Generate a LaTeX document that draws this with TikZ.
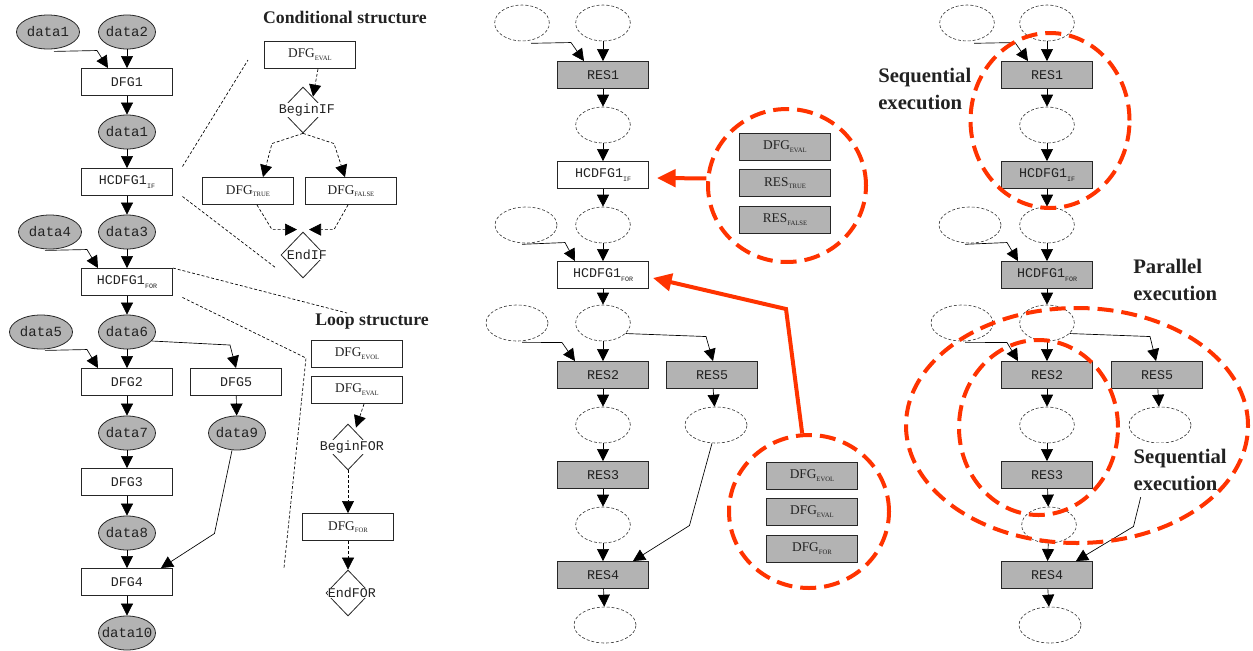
\documentclass[tikz,border=0pt]{standalone}
\usepackage{fontspec}
\setmainfont{Liberation Serif}
\setmonofont{Liberation Mono}
\usetikzlibrary{shapes.geometric,arrows.meta,calc}
\definecolor{redc}{HTML}{FF3300}
\definecolor{grayf}{HTML}{B3B3B3}
\definecolor{txt}{HTML}{222222}
\newcommand{\sbs}[1]{\raisebox{-0.45ex}{\fontsize{5}{5}\selectfont #1}}
\tikzset{
  box/.style={draw=black!85, line width=0.7pt, minimum width=68.25pt, minimum height=20.25pt, inner sep=0pt, font=\fontsize{10}{12}\selectfont\ttfamily, text=txt},
  gbox/.style={box, fill=grayf},
  sbox/.style={box, font=\fontsize{10}{12}\selectfont\rmfamily},
  gsbox/.style={sbox, fill=grayf},
  dell/.style={ellipse, draw=black!85, fill=grayf, line width=0.6pt, minimum width=42.75pt, minimum height=25.5pt, inner sep=0pt,
     label={[font=\fontsize{10.5}{12}\selectfont\ttfamily, text=txt]center:#1}},
  wide/.style={minimum width=47.25pt},
  oell/.style={ellipse, draw=black!80, dash pattern=on 2.2pt off 1.5pt, line width=0.45pt, minimum width=41pt, minimum height=27pt, inner sep=0pt},
  oellw/.style={oell, minimum width=46.5pt},
  dia/.style={diamond, draw=black!85, line width=0.6pt, minimum width=33pt, minimum height=34.5pt, inner sep=0pt,
     label={[font=\fontsize{10}{12}\selectfont\ttfamily, text=txt, fill=white, inner sep=0.3pt, xshift=3pt]center:#1}},
  arr/.style={line width=0.5pt, -{Triangle[length=9pt,width=9pt]}},
  darr/.style={arr, dash pattern=on 2.2pt off 1.5pt},
  zoomline/.style={line width=0.5pt, dash pattern=on 2.2pt off 1.5pt},
  redarr/.style={draw=redc, line width=3pt, -{Triangle[length=14pt,width=13pt]}},
  redell/.style={ellipse, draw=redc, line width=3pt, dash pattern=on 12pt off 6pt, inner sep=0pt},
  title/.style={font=\fontsize{13.3}{16}\selectfont\bfseries, text=txt},
  lab/.style={font=\fontsize{15.5}{20.25}\selectfont\bfseries, text=txt, align=left, inner sep=0pt},
}
\begin{document}
\begin{tikzpicture}[x=0.75pt,y=-0.75pt]
\useasboundingbox (0,0) rectangle (1253,650);

% ---------------- left panel ----------------
\node[dell=data1, wide] (a1) at (48,32) {};
\node[dell=data2] (a2) at (127,32) {};
\node[box] (dfg1) at (127,82) {DFG1};
\node[dell=data1] (a1b) at (127,132) {};
\node[box] (hif) at (127,182) {HCDFG1\sbs{IF}};
\node[dell=data4, wide] (a4) at (50,232) {};
\node[dell=data3] (a3) at (127,232) {};
\node[box] (hfor) at (127,282) {HCDFG1\sbs{FOR}};
\node[dell=data5, wide] (a5) at (41,332) {};
\node[dell=data6] (a6) at (127,332) {};
\node[box] (dfg2) at (127,382) {DFG2};
\node[box] (dfg5) at (236,382) {DFG5};
\node[dell=data7] (a7) at (127,433) {};
\node[dell=data9] (a9) at (237,433) {};
\node[box] (dfg3) at (127,482) {DFG3};
\node[dell=data8] (a8) at (127,533) {};
\node[box] (dfg4) at (127,582) {DFG4};
\node[dell=data10] (a10) at (127,633) {};

\foreach \p/\q in {a2/dfg1, dfg1/a1b, a1b/hif, hif/a3, a3/hfor, hfor/a6, a6/dfg2, dfg2/a7, a7/dfg3, dfg3/a8, a8/dfg4, dfg4/a10, dfg5/a9}
  \draw[arr] (\p) -- (\q);
\draw[arr] ($(a1.south)+(6,2)$) -- ($(dfg1.north)+(-30,-17.5)$) -- ($(dfg1.north)+(-19,0)$);
\draw[arr] ($(a4.south)+(-5,1)$) -- ($(hfor.north)+(-40,-18.5)$) -- ($(hfor.north)+(-29,0)$);
\draw[arr] ($(a5.south)+(4,1)$) -- ($(dfg2.north)+(-40,-18.5)$) -- ($(dfg2.north)+(-29,0)$);
\draw[arr] (a6.-20) -- ($(dfg5.north)+(-6,-23)$) -- (dfg5.north);
\draw[arr] ($(a9.south)+(-5,0)$) -- ($(dfg4.north east)+(41.5,-34.5)$) -- ($(dfg4.north east)+(-12,0)$);

% zoom lines
\coordinate (z1) at (248,60);
\coordinate (z2) at (276,268);
\coordinate (z3) at (347,313);
\coordinate (z4) at (306,358);
\coordinate (z5) at (284,568);
\draw[zoomline] ($(hif.north east)+(9.5,-1.5)$) -- (z1);
\draw[zoomline] ($(hif.south east)+(9.5,0.5)$) -- (z2);
\draw[zoomline] (hfor.north east) -- (z3);
\draw[zoomline] ($(hfor.south east)+(9.5,1.5)$) -- (z4) -- (z5);

% conditional structure
\node[title] (tc) at (345,17) {Conditional structure};
\node[sbox] (cev) at (310,55) {DFG\sbs{EVAL}};
\node[dia=BeginIF] (bif) at (303,110) {};
\node[sbox] (ctr) at (248,191) {DFG\sbs{TRUE}};
\node[sbox] (cfa) at (351,191) {DFG\sbs{FALSE}};
\node[dia=EndIF] (eif) at (303,255) {};
\draw[darr] ($(cev.south)+(8,0)$) -- ($(bif.north)+(10,10)$);
\draw[darr] (bif.south) -- ($(ctr.north)+(24,-33.5)$) -- ($(ctr.north)+(15,0)$);
\draw[darr] (bif.south) -- ($(cfa.north)+(-17,-33.5)$) -- ($(cfa.north)+(-6,0)$);
\draw[darr] ($(ctr.south)+(9,0)$) -- ($(eif.north)+(-31,-2)$) -- ($(eif.north)+(-6,-2)$);
\draw[darr] ($(cfa.south)+(-3,0)$) -- ($(eif.north)+(31,-2)$) -- ($(eif.north)+(6,-2)$);

% loop structure
\node[title] (tl) at (372,322) {Loop structure};
\node[sbox] (lev) at (357,354) {DFG\sbs{EVOL}};
\node[sbox] (lea) at (357,390) {DFG\sbs{EVAL}};
\node[dia=BeginFOR] (bfor) at (348,447) {};
\node[sbox] (lfor) at (348,527) {DFG\sbs{FOR}};
\node[dia=EndFOR] (efor) at (348,593) {};
\draw[darr] ($(lea.south)+(7,0)$) -- ($(bfor.north)+(8,4)$);
\draw[darr] (bfor) -- (lfor);
\draw[darr] (lfor) -- (efor);

% ---------------- middle panel ----------------
\node[oell] (m1) at (522,23) {};
\node[oell] (m2) at (603,23) {};
\node[gbox] (mr1) at (603,75) {RES1};
\node[oell] (m3) at (603,125) {};
\node[box] (mif) at (603,175) {HCDFG1\sbs{IF}};
\node[oellw] (m4l) at (526,225) {};
\node[oell] (m4) at (603,225) {};
\node[box] (mfor) at (603,275) {HCDFG1\sbs{FOR}};
\node[oellw] (m5l) at (517,323) {};
\node[oell] (m5) at (603,323) {};
\node[gbox] (mr2) at (603,375) {RES2};
\node[gbox] (mr5) at (712,375) {RES5};
\node[oell] (m6) at (603,425) {};
\node[oellw] (m6r) at (716,425) {};
\node[gbox] (mr3) at (603,475) {RES3};
\node[oell] (m7) at (603,525) {};
\node[gbox] (mr4) at (603,575) {RES4};
\node[oellw] (m8) at (605,625) {};

\foreach \p/\q in {m2/mr1, mr1/m3, m3/mif, mif/m4, m4/mfor, mfor/m5, m5/mr2, mr2/m6, m6/mr3, mr3/m7, m7/mr4, mr4/m8, mr5/m6r}
  \draw[arr] (\p) -- (\q);
\draw[arr] ($(m1.south)+(9,2)$) -- ($(mr1.north)+(-32,-18.5)$) -- ($(mr1.north)+(-19,0)$);
\draw[arr] ($(m4l.south)+(-4,1)$) -- ($(mfor.north)+(-38,-18.5)$) -- ($(mfor.north)+(-28,0)$);
\draw[arr] ($(m5l.south)+(5,1)$) -- ($(mr2.north)+(-41,-18.5)$) -- ($(mr2.north)+(-28,0)$);
\draw[arr] (m5.-25) -- ($(mr5.north)+(-6,-24.5)$) -- ($(mr5.north)+(1,0)$);
\draw[arr] ($(m6r.south)+(-4,0)$) -- ($(mr4.north east)+(40.5,-35.5)$) -- ($(mr4.north east)+(-16,0)$);

% circles with contents
\node[gsbox] (c1a) at (785,146.5) {DFG\sbs{EVAL}};
\node[gsbox] (c1b) at (785,183) {RES\sbs{TRUE}};
\node[gsbox] (c1c) at (785,219.5) {RES\sbs{FALSE}};
\node[gsbox] (c2a) at (812,475.5) {DFG\sbs{EVOL}};
\node[gsbox] (c2b) at (812,512) {DFG\sbs{EVAL}};
\node[gsbox] (c2c) at (812,548.5) {DFG\sbs{FOR}};
\node[redell, minimum width=118.5pt, minimum height=114.75pt] (c1) at (787,185.5) {};
\node[redell, minimum width=120pt, minimum height=114.75pt] (c2) at (809,511.5) {};
\coordinate (rb) at (786,309);
\draw[redarr] (c1.175) -- ($(mif.east)+(8,3)$);
\draw[redarr] (c2.95) -- (rb) -- ($(mfor.east)+(4,3)$);

% ---------------- right panel ----------------
\node[oell] (r1) at (967,23) {};
\node[oell] (r2) at (1047,23) {};
\node[gbox] (rr1) at (1047,75) {RES1};
\node[oell] (r3) at (1047,125) {};
\node[gbox] (rif) at (1047,175) {HCDFG1\sbs{IF}};
\node[oellw] (r4l) at (970,225) {};
\node[oell] (r4) at (1047,225) {};
\node[gbox] (rfor) at (1047,275) {HCDFG1\sbs{FOR}};
\node[oellw] (r5l) at (962,323) {};
\node[oell] (r5) at (1047,323) {};
\node[gbox] (rr2) at (1047,375) {RES2};
\node[gbox] (rr5) at (1157,375) {RES5};
\node[oell] (r6) at (1047,425) {};
\node[oellw] (r6r) at (1160,425) {};
\node[gbox] (rr3) at (1047,475) {RES3};
\node[oell] (r7) at (1049,525) {};
\node[gbox] (rr4) at (1047,575) {RES4};
\node[oellw] (r8) at (1050,625) {};

\foreach \p/\q in {r2/rr1, rr1/r3, r3/rif, rif/r4, r4/rfor, rfor/r5, r5/rr2, rr2/r6, r6/rr3, rr3/r7, r7/rr4, rr4/r8, rr5/r6r}
  \draw[arr] (\p) -- (\q);
\draw[arr] ($(r1.south)+(7,2)$) -- ($(rr1.north)+(-32,-18.5)$) -- ($(rr1.north)+(-19,0)$);
\draw[arr] ($(r4l.south)+(-5,1)$) -- ($(rfor.north)+(-40,-18.5)$) -- ($(rfor.north)+(-29,0)$);
\draw[arr] ($(r5l.south)+(3,1)$) -- ($(rr2.north)+(-40,-18.5)$) -- ($(rr2.north)+(-29,0)$);
\draw[arr] (r5.-25) -- ($(rr5.north)+(-7,-24.5)$) -- ($(rr5.north)+(-1,0)$);
\draw[arr] ($(r6r.south)+(-6,0)$) -- ($(rr4.north east)+(40.5,-34.5)$) -- ($(rr4.north east)+(-17,0)$);

\node[lab, anchor=west] (ls1) at (878,89) {Sequential\\execution};
\node[lab, anchor=west] (lpar) at (1133,280) {Parallel\\execution};
\node[lab, anchor=west, fill=white, inner xsep=1pt, inner ysep=5pt] (ls2) at (1132,470) {Sequential\\execution};

\node[redell, minimum width=119.25pt, minimum height=131.25pt] (e1) at (1050,120.5) {};
\node[redell, minimum width=256.5pt, minimum height=176.25pt] (e2) at (1077,425.5) {};
\node[redell, minimum width=119.25pt, minimum height=131.25pt] (e3) at (1038.5,427.5) {};
\end{tikzpicture}
\end{document}
